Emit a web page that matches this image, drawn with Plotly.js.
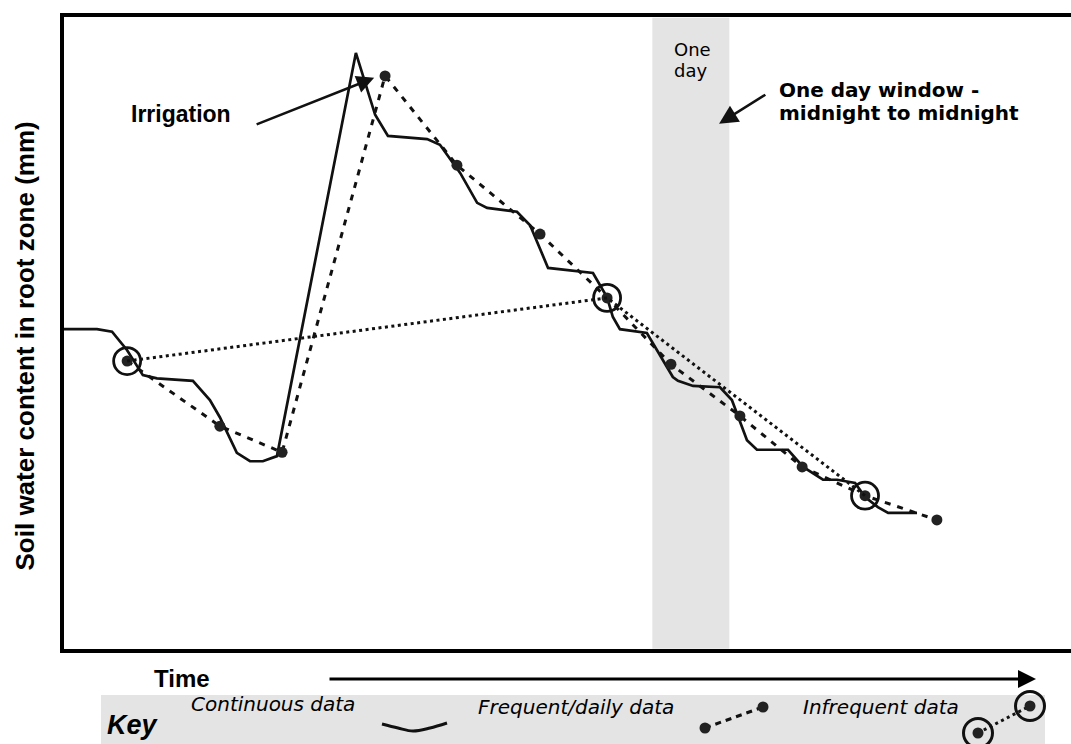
<!DOCTYPE html>
<html>
<head>
<meta charset="utf-8">
<script src="https://cdn.plot.ly/plotly-3.0.1.min.js"></script>
<style>
html,body{margin:0;padding:0;background:#fff;}
#chart{width:1071px;height:744px;}
</style>
</head>
<body>
<div id="chart"></div>
<script>
// ---- Data (time in hours, soil water in mm) ----
const contTime  = [0, 10.9, 15.6, 20.3, 25.2, 29.6, 40.8, 46.1, 49.2, 54.5, 58.6, 62.6, 67.0,
                   91.6, 97.6, 101.6, 113.8, 117.8, 124.1, 129.4, 132.5, 141.8, 145.9, 151.5,
                   165.5, 169.9, 171.7, 173.9, 182.3, 190.4, 192.0, 196.7, 205.1, 208.8, 213.5,
                   216.6, 226.3, 231.0, 237.2, 241.6, 247.2, 250.3, 254.3, 257.5, 266.5];
const contWater = [50.6, 50.6, 50.2, 47.3, 43.4, 42.9, 42.5, 39.5, 36.8, 31.2, 29.9, 29.9, 30.7,
                   93.9, 84.2, 80.9, 80.4, 79.5, 75.1, 70.4, 69.6, 69.0, 66.9, 60.2,
                   59.4, 55.6, 52.5, 50.6, 50.0, 43.1, 42.5, 41.7, 41.5, 39.5, 33.2,
                   31.7, 31.7, 29.0, 27.0, 27.0, 26.5, 24.3, 22.7, 21.8, 21.8];

const dailyTime  = [20.3, 49.2, 68.6, 100.7, 123.1, 149.0, 169.9, 189.8, 211.3, 230.7, 250.3, 272.7];
const dailyWater = [45.6, 35.4, 31.3, 90.3, 76.3, 65.5, 55.5, 45.1, 37.0, 29.0, 24.5, 20.7];

const infreqTime  = [20.3, 169.9, 250.3];
const infreqWater = [45.6, 55.5, 24.5];

const dayWindow = [184, 208];          // one day, midnight to midnight (hours)
const irrigationArrow = {tip: [97.3, 90.0], tail: [60.2, 82.6]};
const windowArrow = {tip: [204.8, 82.8], tail: [219.7, 87.5]};

// Key (legend) sample glyphs, in figure units
const keyContX = [382, 398, 413, 430, 447];
const keyContY = [724, 728, 731, 728, 723];
const keyFreqX = [705, 763];
const keyFreqY = [728, 707];
const keyInfX  = [978, 1030];
const keyInfY  = [733, 706];

const labels = {
  yTitle: 'Soil water content in root zone (mm)',
  xTitle: 'Time',
  irrigation: 'Irrigation',
  windowLine1: 'One day window -',
  windowLine2: 'midnight to midnight',
  oneDay1: 'One',
  oneDay2: 'day',
  key: 'Key',
  cont: 'Continuous data',
  freq: 'Frequent/daily data',
  infreq: 'Infrequent data'
};

// ---- Layout geometry ----
const W = 1071, H = 744;
const plotL = 63.7, plotR = 1071, plotT = 17, plotB = 649;
const ink = '#111111';
const arial = 'Liberation Sans, Arial, sans-serif';
const deja = 'DejaVu Sans, Verdana, sans-serif';

const traces = [
  {x: contTime, y: contWater, xaxis: 'x', yaxis: 'y', mode: 'lines',
   line: {color: ink, width: 2.7}, hoverinfo: 'skip', name: labels.cont},
  {x: dailyTime, y: dailyWater, xaxis: 'x', yaxis: 'y', mode: 'lines+markers',
   line: {color: ink, width: 3, dash: '6px,7px'},
   marker: {color: '#222', size: 11}, hoverinfo: 'skip', name: labels.freq},
  {x: infreqTime, y: infreqWater, xaxis: 'x', yaxis: 'y', mode: 'lines+markers',
   line: {color: ink, width: 3, dash: '3px,3.5px'},
   marker: {symbol: 'circle-open', color: ink, size: 27, line: {width: 2.8, color: ink}},
   hoverinfo: 'skip', name: labels.infreq},
  // key samples
  {x: keyContX, y: keyContY, xaxis: 'x2', yaxis: 'y2', mode: 'lines',
   line: {color: ink, width: 3, shape: 'spline'}, hoverinfo: 'skip'},
  {x: keyFreqX, y: keyFreqY, xaxis: 'x2', yaxis: 'y2', mode: 'lines+markers',
   line: {color: ink, width: 3, dash: '6px,5px'}, marker: {color: '#222', size: 11}, hoverinfo: 'skip'},
  {x: keyInfX, y: keyInfY, xaxis: 'x2', yaxis: 'y2', mode: 'lines+markers',
   line: {color: ink, width: 3, dash: '3px,3.5px'}, marker: {color: '#222', size: 11}, hoverinfo: 'skip'},
  {x: keyInfX, y: keyInfY, xaxis: 'x2', yaxis: 'y2', mode: 'markers',
   marker: {symbol: 'circle-open', color: ink, size: 29, line: {width: 3, color: ink}}, hoverinfo: 'skip'}
];

function pxToH(px){ return (px - 62) / 3.2083; }

const layout = {
  width: W, height: H,
  margin: {l: 0, r: 0, t: 0, b: 0, pad: 0},
  paper_bgcolor: '#ffffff',
  plot_bgcolor: 'rgba(0,0,0,0)',
  showlegend: false,
  xaxis: {
    domain: [plotL / W, plotR / W],
    range: [pxToH(plotL), pxToH(plotR)],
    showgrid: false, zeroline: false, showticklabels: false, ticks: '',
    showline: true, linecolor: '#000', linewidth: 4, mirror: true,
    fixedrange: true
  },
  yaxis: {
    domain: [(H - plotB) / H, (H - plotT) / H],
    range: [(652 - plotB) / 6.38, (652 - plotT) / 6.38],
    showgrid: false, zeroline: false, showticklabels: false, ticks: '',
    showline: true, linecolor: '#000', linewidth: 4,
    fixedrange: true
  },
  xaxis2: {domain: [0, 1], range: [0, W], visible: false, anchor: 'y2', fixedrange: true},
  yaxis2: {domain: [0, 1], range: [H, 0], visible: false, anchor: 'x2', fixedrange: true},
  shapes: [
    {type: 'rect', xref: 'x', yref: 'y', x0: dayWindow[0], x1: dayWindow[1], y0: 0.5, y1: 99.4,
     fillcolor: '#e4e4e4', line: {width: 0}, layer: 'below'},
    {type: 'rect', xref: 'x2', yref: 'y2', x0: 101, x1: 1045, y0: 695, y1: 744,
     fillcolor: '#e4e4e4', line: {width: 0}, layer: 'below'}
  ],
  annotations: [
    {xref: 'x', yref: 'y', x: pxToH(129), y: 84.3, text: labels.irrigation, showarrow: false,
     xanchor: 'left', yanchor: 'middle', font: {family: arial, size: 23, color: '#000', weight: 'bold'}},
    {xref: 'x', yref: 'y', axref: 'x', ayref: 'y',
     x: irrigationArrow.tip[0], y: irrigationArrow.tip[1], ax: irrigationArrow.tail[0], ay: irrigationArrow.tail[1],
     text: '', showarrow: true, arrowhead: 2, arrowsize: 1.4, arrowwidth: 2.5, arrowcolor: ink, standoff: 0},
    {xref: 'x', yref: 'y', axref: 'x', ayref: 'y',
     x: windowArrow.tip[0], y: windowArrow.tip[1], ax: windowArrow.tail[0], ay: windowArrow.tail[1],
     text: '', showarrow: true, arrowhead: 2, arrowsize: 1.5, arrowwidth: 2.5, arrowcolor: ink, standoff: 0},
    {xref: 'x', yref: 'y', x: pxToH(777), y: 88.1, text: labels.windowLine1, showarrow: false,
     xanchor: 'left', yanchor: 'middle', font: {family: deja, size: 20, color: '#000', weight: 'bold'}},
    {xref: 'x', yref: 'y', x: pxToH(777), y: 84.5, text: labels.windowLine2, showarrow: false,
     xanchor: 'left', yanchor: 'middle', font: {family: deja, size: 20, color: '#000', weight: 'bold'}},
    {xref: 'x', yref: 'y', x: pxToH(672), y: 94.4, text: labels.oneDay1, showarrow: false,
     xanchor: 'left', yanchor: 'middle', font: {family: deja, size: 18, color: '#000'}},
    {xref: 'x', yref: 'y', x: pxToH(672), y: 91.1, text: labels.oneDay2, showarrow: false,
     xanchor: 'left', yanchor: 'middle', font: {family: deja, size: 18, color: '#000'}},
    // axis titles and key
    {xref: 'x2', yref: 'y2', x: 24, y: 346.5, text: labels.yTitle, textangle: -90, showarrow: false,
     xanchor: 'center', yanchor: 'middle', font: {family: arial, size: 26, color: '#000', weight: 'bold'}},
    {xref: 'x2', yref: 'y2', x: 152, y: 678, text: labels.xTitle, showarrow: false,
     xanchor: 'left', yanchor: 'middle', font: {family: arial, size: 24, color: '#000', weight: 'bold'}},
    {xref: 'x2', yref: 'y2', axref: 'x2', ayref: 'y2', x: 1036, y: 679, ax: 328, ay: 679,
     text: '', showarrow: true, arrowhead: 2, arrowsize: 1.2, arrowwidth: 3, arrowcolor: '#000', standoff: 0},
    {xref: 'x2', yref: 'y2', x: 105, y: 725, text: labels.key, showarrow: false,
     xanchor: 'left', yanchor: 'middle', font: {family: arial, size: 27, color: '#000', weight: 'bold', style: 'italic'}},
    {xref: 'x2', yref: 'y2', x: 189, y: 704, text: labels.cont, showarrow: false,
     xanchor: 'left', yanchor: 'middle', font: {family: deja, size: 20, color: '#000', style: 'italic'}},
    {xref: 'x2', yref: 'y2', x: 476, y: 707, text: labels.freq, showarrow: false,
     xanchor: 'left', yanchor: 'middle', font: {family: deja, size: 20, color: '#000', style: 'italic'}},
    {xref: 'x2', yref: 'y2', x: 801, y: 707, text: labels.infreq, showarrow: false,
     xanchor: 'left', yanchor: 'middle', font: {family: deja, size: 20, color: '#000', style: 'italic'}}
  ]
};

Plotly.newPlot('chart', traces, layout, {staticPlot: true, displayModeBar: false});
</script>
</body>
</html>
